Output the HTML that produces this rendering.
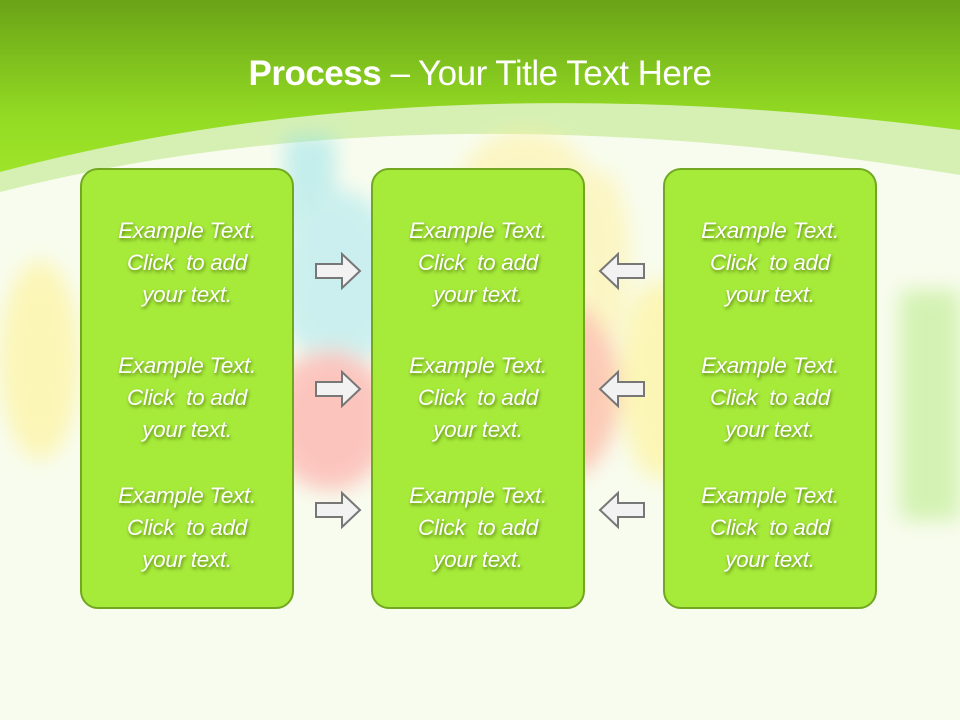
<!DOCTYPE html>
<html><head><meta charset="utf-8"><style>
body{margin:0;width:960px;height:720px;overflow:hidden;position:relative;font-family:"Liberation Sans",sans-serif}
svg{position:absolute;left:0;top:0}
.t{position:absolute;top:54px;width:960px;text-align:center;color:#fff;font-size:35px;letter-spacing:-0.5px}
.box{position:absolute;top:168px;width:210px;height:437px;border:2px solid #72a820;border-radius:18px;background:#a6ea3a}
.g{position:absolute;width:100%;text-align:center;color:#fff;font-style:italic;font-size:22.5px;line-height:32px;letter-spacing:-0.3px;text-shadow:1px 2px 3px rgba(60,90,0,.7)}
</style></head><body>
<svg width="960" height="720">
<defs>
<linearGradient id="gr" gradientUnits="userSpaceOnUse" x1="0" y1="0" x2="0" y2="200"><stop offset="0" stop-color="#6aa317"/><stop offset="0.6" stop-color="#94dc24"/><stop offset="1" stop-color="#a2e82c"/></linearGradient>
<filter id="bl"><feGaussianBlur stdDeviation="10"/></filter>
</defs>
<rect width="960" height="720" fill="url(#gr)"/>
<path d="M0,172 Q420,60 960,130 L960,720 L0,720Z" fill="#d6f0b4"/>
<path d="M0,192 Q420,85 960,175 L960,720 L0,720Z" fill="#f8fcee"/>
<g filter="url(#bl)" opacity="0.5">
<rect x="285" y="135" width="50" height="200" fill="#8fe0e8"/>
<ellipse cx="340" cy="280" rx="60" ry="90" fill="#9fe4ee"/>
<ellipse cx="525" cy="200" rx="70" ry="70" fill="#fff09a"/>
<ellipse cx="600" cy="260" rx="30" ry="90" fill="#fff09a"/>
<ellipse cx="330" cy="420" rx="60" ry="70" fill="#ff9090"/>
<ellipse cx="560" cy="390" rx="60" ry="90" fill="#ff9a80"/>
<ellipse cx="40" cy="360" rx="40" ry="100" fill="#fff080"/>
<ellipse cx="660" cy="380" rx="40" ry="100" fill="#fff080"/>
<rect x="900" y="290" width="60" height="230" fill="#b0e878"/>
</g>
<g fill="#f2f2f2" stroke="#777" stroke-width="2">
<path d="M316,264 h26 v-10 l18,17 l-18,17 v-10 h-26z"/>
<path d="M316,382 h26 v-10 l18,17 l-18,17 v-10 h-26z"/>
<path d="M316,503 h26 v-10 l18,17 l-18,17 v-10 h-26z"/>
<path d="M644,264 h-26 v-10 l-18,17 l18,17 v-10 h26z"/>
<path d="M644,382 h-26 v-10 l-18,17 l18,17 v-10 h26z"/>
<path d="M644,503 h-26 v-10 l-18,17 l18,17 v-10 h26z"/>
</g>
</svg>
<div class="t"><b>Process</b> – Your Title Text Here</div>
<div class="box" style="left:80px"><div class="g" style="top:45px">Example Text.<br>Click&nbsp; to add<br>your text.</div><div class="g" style="top:180px">Example Text.<br>Click&nbsp; to add<br>your text.</div><div class="g" style="top:310px">Example Text.<br>Click&nbsp; to add<br>your text.</div></div>
<div class="box" style="left:371px"><div class="g" style="top:45px">Example Text.<br>Click&nbsp; to add<br>your text.</div><div class="g" style="top:180px">Example Text.<br>Click&nbsp; to add<br>your text.</div><div class="g" style="top:310px">Example Text.<br>Click&nbsp; to add<br>your text.</div></div>
<div class="box" style="left:663px"><div class="g" style="top:45px">Example Text.<br>Click&nbsp; to add<br>your text.</div><div class="g" style="top:180px">Example Text.<br>Click&nbsp; to add<br>your text.</div><div class="g" style="top:310px">Example Text.<br>Click&nbsp; to add<br>your text.</div></div>
</body></html>
